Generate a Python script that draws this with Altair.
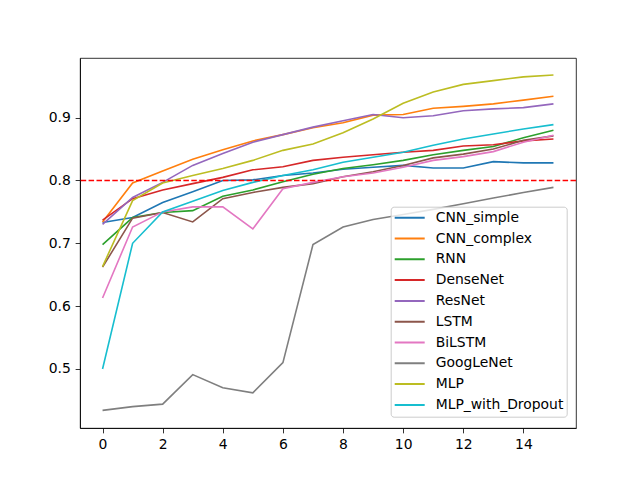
import altair as alt
import pandas as pd

epochs = list(range(16))

series_names = [
    "CNN_simple", "CNN_complex", "RNN", "DenseNet", "ResNet",
    "LSTM", "BiLSTM", "GoogLeNet", "MLP", "MLP_with_Dropout",
]
series_colors = [
    "#1f77b4", "#ff7f0e", "#2ca02c", "#d62728", "#9467bd",
    "#8c564b", "#e377c2", "#7f7f7f", "#bcbd22", "#17becf",
]

cnn_simple = [0.733, 0.741, 0.765, 0.782, 0.800, 0.801, 0.808, 0.812,
              0.818, 0.821, 0.824, 0.820, 0.820, 0.830, 0.828, 0.828]
cnn_complex = [0.734, 0.796, 0.815, 0.834, 0.849, 0.863, 0.873, 0.884,
               0.892, 0.904, 0.905, 0.915, 0.918, 0.922, 0.928, 0.934]
rnn = [0.698, 0.741, 0.749, 0.752, 0.775, 0.785, 0.798, 0.810,
       0.819, 0.825, 0.832, 0.841, 0.848, 0.854, 0.868, 0.880]
densenet = [0.737, 0.771, 0.785, 0.795, 0.805, 0.817, 0.822, 0.832,
            0.837, 0.841, 0.845, 0.848, 0.855, 0.857, 0.863, 0.866]
resnet = [0.730, 0.773, 0.797, 0.824, 0.843, 0.861, 0.873, 0.885,
          0.895, 0.905, 0.900, 0.903, 0.911, 0.914, 0.916, 0.922]
lstm = [0.662, 0.740, 0.749, 0.734, 0.771, 0.781, 0.789, 0.795,
        0.806, 0.814, 0.824, 0.836, 0.842, 0.850, 0.864, 0.871]
bilstm = [0.613, 0.726, 0.750, 0.758, 0.758, 0.723, 0.787, 0.797,
          0.806, 0.812, 0.821, 0.832, 0.838, 0.846, 0.861, 0.872]
googlenet = [0.434, 0.440, 0.444, 0.491, 0.470, 0.462, 0.510, 0.698,
             0.726, 0.738, 0.746, 0.754, 0.763, 0.772, 0.781, 0.789]
mlp = [0.663, 0.768, 0.796, 0.808, 0.819, 0.832, 0.848, 0.858,
       0.876, 0.898, 0.923, 0.941, 0.953, 0.959, 0.965, 0.968]
mlp_dropout = [0.500, 0.700, 0.750, 0.767, 0.784, 0.797, 0.808, 0.817,
               0.829, 0.837, 0.845, 0.856, 0.866, 0.874, 0.882, 0.889]

series_values = [cnn_simple, cnn_complex, rnn, densenet, resnet,
                 lstm, bilstm, googlenet, mlp, mlp_dropout]

threshold = [0.8]
x_ticks = [0, 2, 4, 6, 8, 10, 12, 14]
y_ticks = [0.5, 0.6, 0.7, 0.8, 0.9]

rows = []
for name, vals in zip(series_names, series_values):
    for e, v in zip(epochs, vals):
        rows.append({"epoch": e, "model": name, "acc": v})
df = pd.DataFrame(rows)

x_scale = alt.Scale(domain=[-0.75, 15.75], nice=False, zero=False)
y_scale = alt.Scale(domain=[0.406, 0.995], nice=False, zero=False)

lines = alt.Chart(df).mark_line(strokeWidth=1.6).encode(
    x=alt.X("epoch:Q", scale=x_scale,
            axis=alt.Axis(values=x_ticks, title=None, grid=False, labelFlush=False)),
    y=alt.Y("acc:Q", scale=y_scale,
            axis=alt.Axis(values=y_ticks, format=".1f", title=None, grid=False)),
    color=alt.Color("model:N",
                    scale=alt.Scale(domain=series_names, range=series_colors),
                    title=None,
                    legend=alt.Legend(orient="none", legendX=310.7, legendY=148.7)),
    detail="model:N",
)

rule = alt.Chart(pd.DataFrame({"y": threshold})).mark_rule(
    color="#ff0000", strokeDash=[5.5, 2.4], strokeWidth=1.5
).encode(y=alt.Y("y:Q", scale=y_scale))

chart = alt.layer(lines, rule).properties(
    width=496, height=370,
    autosize=alt.AutoSizeParams(type="none"),
    padding={"left": 80, "top": 58, "right": 64, "bottom": 52},
    background="white",
).configure_view(
    stroke="black", strokeWidth=0.8
).configure_axis(
    domainColor="black", domainWidth=0.8,
    tickColor="black", tickWidth=0.8, tickSize=4.86,
    labelPadding=4.86, labelFont="DejaVu Sans", labelFontSize=13.9,
    labelColor="black",
).configure_legend(
    labelFont="DejaVu Sans", labelFontSize=13.9, labelColor="black",
    symbolType="stroke", symbolStrokeWidth=2, symbolSize=900,
    strokeColor="#cccccc", fillColor="rgba(255,255,255,0.8)",
    cornerRadius=3, padding=3, labelOffset=10,
    clipHeight=16, rowPadding=4.8,
)

chart.save("out.html", embed_options={"renderer": "svg", "actions": False})
